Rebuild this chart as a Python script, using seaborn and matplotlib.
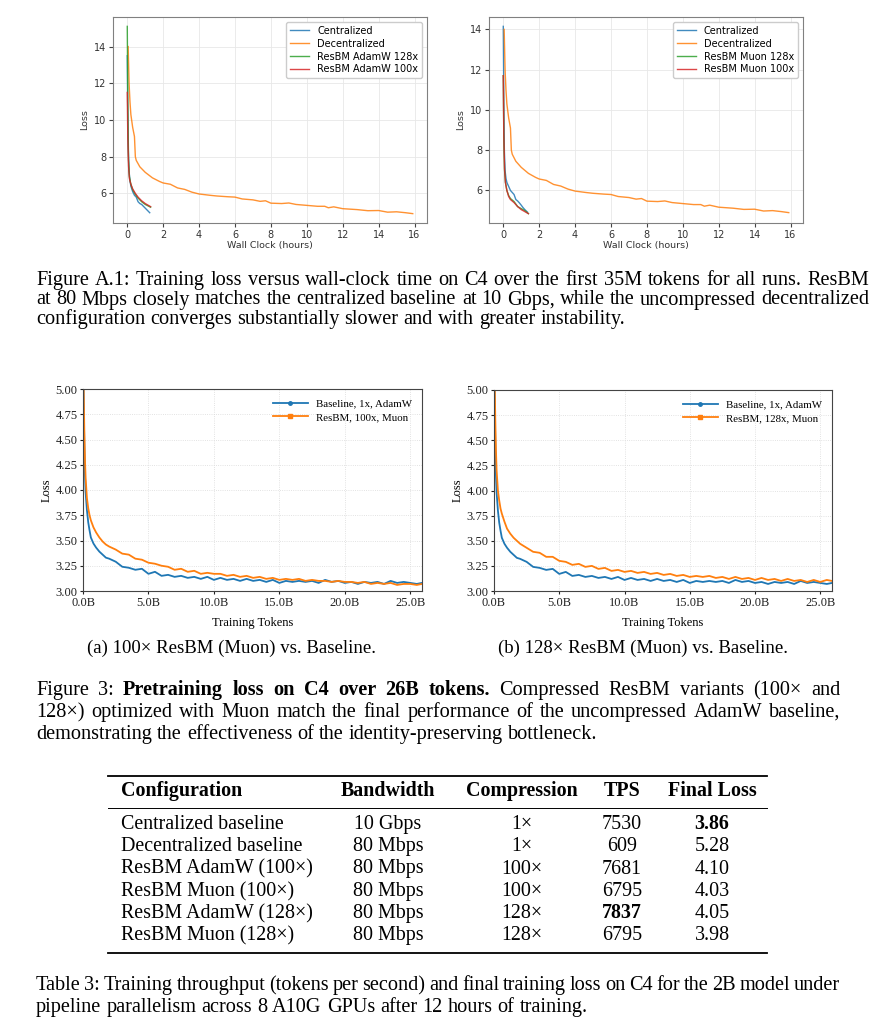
import matplotlib
matplotlib.use("Agg")
import matplotlib.pyplot as plt
from matplotlib.lines import Line2D
from matplotlib.ticker import FormatStrFormatter
import numpy as np
import seaborn as sns

W, H = 891, 1024
SERIF = 'Liberation Serif'
C_BLUE, C_ORANGE, C_GREEN, C_RED = '#1f77b4', '#ff7f0e', '#2ca02c', '#d62728'
CAP = 14.6  # caption font size

# ---- Figure A.1 data (wall clock, hours) ----
dec_t = [0.05, 0.1, 0.15, 0.2, 0.3, 0.4, 0.45, 0.5, 0.7, 1.0,
         1.4, 1.8, 2.0, 2.4, 2.8, 3.2, 3.6, 4.0, 4.6, 5.0,
         5.6, 6.0, 6.4, 7.0, 7.4, 7.7, 8.0, 8.6, 9.0, 9.4,
         10.0, 10.6, 11.0, 11.2, 11.5, 12.0, 12.8, 13.4, 14.0, 14.5,
         15.0, 15.5, 15.9]
dec_loss = [14.0, 12.0, 11.0, 10.3, 9.6, 9.1, 8.0, 7.8, 7.45, 7.15,
            6.85, 6.65, 6.57, 6.5, 6.3, 6.22, 6.07, 5.97, 5.9, 5.86,
            5.82, 5.8, 5.7, 5.65, 5.57, 5.6, 5.47, 5.45, 5.48, 5.4,
            5.35, 5.3, 5.3, 5.22, 5.27, 5.17, 5.12, 5.06, 5.07, 4.98,
            5.0, 4.95, 4.9]

cen_adamw_t = [0.0, 0.02, 0.05, 0.1, 0.15, 0.2, 0.3, 0.4, 0.5, 0.6, 0.7, 0.8, 0.9, 1.0, 1.1, 1.25]
cen_adamw_loss = [13.5, 11.0, 8.6, 7.2, 6.7, 6.4, 6.1, 5.9, 5.8, 5.55, 5.45, 5.4, 5.3, 5.2, 5.1, 4.95]
res_adamw_t = [0.0, 0.03, 0.07, 0.12, 0.2, 0.3, 0.45, 0.6, 0.8, 1.0, 1.3]
res_adamw128_loss = [15.1, 11.0, 7.8, 6.9, 6.5, 6.2, 5.95, 5.75, 5.55, 5.4, 5.25]
res_adamw100_loss = [11.5, 9.0, 7.5, 6.8, 6.5, 6.25, 6.0, 5.8, 5.6, 5.45, 5.28]

cen_muon_t = [0.0, 0.03, 0.06, 0.1, 0.15, 0.2, 0.3, 0.4, 0.5, 0.6, 0.7, 0.8, 0.9, 1.0, 1.1, 1.2, 1.35]
cen_muon_loss = [14.15, 10.5, 8.0, 7.0, 6.6, 6.4, 6.2, 6.0, 5.9, 5.8, 5.55, 5.48, 5.38, 5.27, 5.15, 5.05, 4.92]
res_muon_t = [0.0, 0.03, 0.07, 0.12, 0.2, 0.3, 0.4, 0.6, 0.8, 1.0, 1.2, 1.4]
res_muon128_loss = [11.7, 8.5, 7.0, 6.4, 6.0, 5.75, 5.6, 5.45, 5.2, 5.1, 5.0, 4.85]
res_muon100_loss = [11.7, 8.8, 7.1, 6.4, 6.0, 5.7, 5.55, 5.4, 5.2, 5.05, 4.95, 4.85]

# ---- Figure 3 data (training tokens, billions) ----
tokens_b = [0.0, 0.05, 0.1, 0.15, 0.2, 0.3, 0.4, 0.5, 0.6, 0.8, 1.0, 1.25, 1.5, 1.75,
            2.0, 2.5, 3.0, 3.5, 4.0, 4.5, 5.0, 5.5, 6.0, 6.5,
            7.0, 7.5, 8.0, 8.5, 9.0, 9.5, 10.0, 10.5, 11.0, 11.5,
            12.0, 12.5, 13.0, 13.5, 14.0, 14.5, 15.0, 15.5, 16.0, 16.5,
            17.0, 17.5, 18.0, 18.5, 19.0, 19.5, 20.0, 20.5, 21.0, 21.5,
            22.0, 22.5, 23.0, 23.5, 24.0, 24.5, 25.0, 25.5, 25.9]
baseline_loss = [5.6, 4.9, 4.45, 4.15, 3.98, 3.8, 3.68, 3.6, 3.53, 3.47, 3.43, 3.39, 3.36, 3.33,
                 3.32, 3.29, 3.24, 3.23, 3.21, 3.22, 3.17, 3.19, 3.15, 3.16,
                 3.14, 3.15, 3.13, 3.14, 3.12, 3.14, 3.11, 3.13, 3.11, 3.12,
                 3.10, 3.12, 3.10, 3.11, 3.09, 3.11, 3.08, 3.10, 3.09, 3.10,
                 3.09, 3.10, 3.08, 3.11, 3.09, 3.10, 3.08, 3.09, 3.07, 3.09,
                 3.08, 3.09, 3.07, 3.10, 3.08, 3.09, 3.08, 3.07, 3.08]
resbm100_loss = [5.6, 5.0, 4.6, 4.3, 4.12, 3.92, 3.82, 3.75, 3.70, 3.63, 3.58, 3.53, 3.49, 3.46,
                 3.44, 3.41, 3.37, 3.36, 3.32, 3.31, 3.28, 3.27, 3.25, 3.24,
                 3.21, 3.22, 3.19, 3.20, 3.17, 3.18, 3.17, 3.17, 3.15, 3.16,
                 3.14, 3.15, 3.13, 3.14, 3.12, 3.13, 3.11, 3.12, 3.11, 3.12,
                 3.10, 3.11, 3.10, 3.10, 3.09, 3.10, 3.09, 3.09, 3.08, 3.09,
                 3.07, 3.08, 3.07, 3.08, 3.06, 3.07, 3.07, 3.06, 3.07]
resbm128_loss = [5.6, 5.1, 4.7, 4.4, 4.2, 4.0, 3.9, 3.82, 3.77, 3.69, 3.62, 3.57, 3.53, 3.50,
                 3.47, 3.43, 3.39, 3.38, 3.34, 3.34, 3.30, 3.29, 3.26, 3.27,
                 3.24, 3.25, 3.22, 3.23, 3.20, 3.21, 3.19, 3.20, 3.18, 3.19,
                 3.17, 3.18, 3.16, 3.17, 3.15, 3.16, 3.14, 3.15, 3.14, 3.15,
                 3.13, 3.14, 3.12, 3.14, 3.12, 3.13, 3.11, 3.13, 3.11, 3.12,
                 3.10, 3.12, 3.10, 3.11, 3.09, 3.11, 3.09, 3.11, 3.10]

# ---- Table 3 data ----
configs = ['Centralized baseline', 'Decentralized baseline', 'ResBM AdamW (100×)',
           'ResBM Muon (100×)', 'ResBM AdamW (128×)', 'ResBM Muon (128×)']
bandwidths = ['10 Gbps', '80 Mbps', '80 Mbps', '80 Mbps', '80 Mbps', '80 Mbps']
compressions = ['1×', '1×', '100×', '100×', '128×', '128×']
tps = [7530, 609, 7681, 6795, 7837, 6795]
final_loss = [3.86, 5.28, 4.10, 4.03, 4.05, 3.98]


def box(x0, y0, x1, y1):
    return [x0 / W, 1 - y1 / H, (x1 - x0) / W, (y1 - y0) / H]


def fx(x):
    return x / W


def fy(y):
    return 1 - y / H


fig = plt.figure(figsize=(W / 100, H / 100), dpi=100)
renderer = fig.canvas.get_renderer()

# ---------------- top row: wall clock plots ----------------
top = [
    (box(113, 17, 427, 223), cen_adamw_t, cen_adamw_loss, res_adamw_t,
     res_adamw128_loss, res_adamw100_loss, 'AdamW'),
    (box(489, 17, 803, 223), cen_muon_t, cen_muon_loss, res_muon_t,
     res_muon128_loss, res_muon100_loss, 'Muon'),
]
for rect, ct, cl, rt, r128, r100, opt in top:
    ax = fig.add_axes(rect)
    sns.lineplot(x=ct, y=cl, ax=ax, color=C_BLUE, label='Centralized', linewidth=1.0,
                 alpha=0.85, estimator=None, sort=False)
    sns.lineplot(x=dec_t, y=dec_loss, ax=ax, color=C_ORANGE, label='Decentralized', linewidth=1.0,
                 alpha=0.85, estimator=None, sort=False)
    sns.lineplot(x=rt, y=r128, ax=ax, color=C_GREEN, label=f'ResBM {opt} 128x', linewidth=1.0,
                 alpha=0.85, estimator=None, sort=False)
    sns.lineplot(x=rt, y=r100, ax=ax, color=C_RED, label=f'ResBM {opt} 100x', linewidth=1.0,
                 alpha=0.85, estimator=None, sort=False)
    ax.set_xticks(range(0, 17, 2))
    ax.set_yticks([6, 8, 10, 12, 14])
    ax.grid(True, color='#e8e8e8', linewidth=0.6)
    ax.set_axisbelow(True)
    for s in ax.spines.values():
        s.set_color('#808080')
    ax.tick_params(labelsize=7, colors='#444444', labelcolor='#333333', length=3, pad=2)
    ax.set_xlabel('Wall Clock (hours)', fontsize=6.8, color='#333333', labelpad=1)
    ax.set_ylabel('Loss', fontsize=6.8, color='#333333', labelpad=3)
    ax.legend(loc='upper right', fontsize=7, framealpha=1, edgecolor='#cccccc',
              handlelength=2.0, borderpad=0.4, labelspacing=0.3)

# ---------------- middle row: token plots ----------------
mid = [
    (box(83, 389, 422, 591), resbm100_loss, 'ResBM, 100x, Muon'),
    (box(494, 390, 832, 591), resbm128_loss, 'ResBM, 128x, Muon'),
]
for rect, rl, lab in mid:
    ax = fig.add_axes(rect)
    sns.lineplot(x=tokens_b, y=baseline_loss, ax=ax, color=C_BLUE, linewidth=1.3,
                 estimator=None, sort=False)
    sns.lineplot(x=tokens_b, y=rl, ax=ax, color=C_ORANGE, linewidth=1.3,
                 estimator=None, sort=False)
    ax.set_xlim(0, 25.9)
    ax.set_ylim(3.0, 5.0)
    ax.set_yticks(np.arange(3.0, 5.01, 0.25))
    ax.set_xticks([0, 5, 10, 15, 20, 25])
    ax.yaxis.set_major_formatter(FormatStrFormatter('%.2f'))
    ax.xaxis.set_major_formatter(FormatStrFormatter('%.1fB'))
    ax.grid(True, color='#d9d9d9', linewidth=0.6, linestyle=':')
    ax.set_axisbelow(True)
    for s in ax.spines.values():
        s.set_color('#444444')
        s.set_linewidth(0.8)
    ax.tick_params(labelsize=9, labelfontfamily=SERIF, length=2.5, pad=1.5, colors='#222222')
    ax.set_xlabel('Training Tokens', fontsize=9, family=SERIF, labelpad=6)
    ax.set_ylabel('Loss', fontsize=9, family=SERIF, labelpad=2)
    handles = [Line2D([], [], color=C_BLUE, lw=1.3, marker='o', markersize=2.5),
               Line2D([], [], color=C_ORANGE, lw=1.3, marker='s', markersize=2.5)]
    ax.legend(handles, ['Baseline, 1x, AdamW', lab], loc='upper right', frameon=False,
              handlelength=3.2, prop={'family': SERIF, 'size': 7.8}, labelspacing=0.4)


# ---------------- text helpers ----------------
BASE = 5  # px from visual line centre down to the baseline


def put_line(words, y, x0, x1=None, size=CAP):
    arts, widths = [], []
    for w, wt in words:
        t = fig.text(0, 0, w, fontsize=size, fontweight=wt, family=SERIF, va='baseline')
        arts.append(t)
        widths.append(t.get_window_extent(renderer).width)
    if x1 is None or len(words) < 2:
        gap = size * 0.25 * 100 / 72
    else:
        gap = (x1 - x0 - sum(widths)) / (len(words) - 1)
    x = x0
    for t, w in zip(arts, widths):
        t.set_position((fx(x), fy(y + BASE)))
        x += w + gap


def plain(s, wt='normal'):
    return [(w, wt) for w in s.split()]


put_line(plain('Figure A.1: Training loss versus wall-clock time on C4 over the first 35M tokens for all runs. ResBM'),
         280, 36, 869)
put_line(plain('at 80 Mbps closely matches the centralized baseline at 10 Gbps, while the uncompressed decentralized'),
         299.5, 36, 869)
put_line(plain('configuration converges substantially slower and with greater instability.'), 319, 36)

fig.text(fx(232), fy(648 + BASE), '(a) 100× ResBM (Muon) vs. Baseline.', fontsize=13.5, family=SERIF,
         ha='center', va='baseline')
fig.text(fx(643), fy(648 + BASE), '(b) 128× ResBM (Muon) vs. Baseline.', fontsize=13.5, family=SERIF,
         ha='center', va='baseline')

put_line(plain('Figure 3:') + plain('Pretraining loss on C4 over 26B tokens.', 'bold')
         + plain('Compressed ResBM variants (100× and'), 690, 36, 840)
put_line(plain('128×) optimized with Muon match the final performance of the uncompressed AdamW baseline,'),
         712, 36, 840)
put_line(plain('demonstrating the effectiveness of the identity-preserving bottleneck.'), 734, 36)

# ---------------- table ----------------
def rule(y, lw):
    fig.add_artist(Line2D([fx(108), fx(767)], [fy(y), fy(y)], transform=fig.transFigure,
                          color='black', lw=lw))


rule(775.5, 1.3)
rule(807.5, 0.7)
rule(953, 1.3)

col_x = [121, 388, 522, 622, 712]
headers = ['Configuration', 'Bandwidth', 'Compression', 'TPS', 'Final Loss']
for i, h in enumerate(headers):
    fig.text(fx(col_x[i]), fy(791 + BASE), h, fontsize=14.4, fontweight='bold', family=SERIF,
             ha='left' if i == 0 else 'center', va='baseline')

best_tps = int(np.argmax(tps))
best_loss = int(np.argmin(final_loss))
row_y = [824, 846, 868.5, 891, 913, 935]
for r in range(len(configs)):
    cells = [configs[r], bandwidths[r], compressions[r], str(tps[r]), f'{final_loss[r]:.2f}']
    for i, c in enumerate(cells):
        bold = (i == 3 and r == best_tps) or (i == 4 and r == best_loss)
        fig.text(fx(col_x[i]), fy(row_y[r] + BASE), c, fontsize=14.4, family=SERIF,
                 fontweight='bold' if bold else 'normal',
                 ha='left' if i == 0 else 'center', va='baseline')

put_line(plain('Table 3: Training throughput (tokens per second) and final training loss on C4 for the 2B model under'),
         985, 36, 840)
put_line(plain('pipeline parallelism across 8 A10G GPUs after 12 hours of training.'), 1007, 36)

fig.savefig('out.png', dpi=100)
